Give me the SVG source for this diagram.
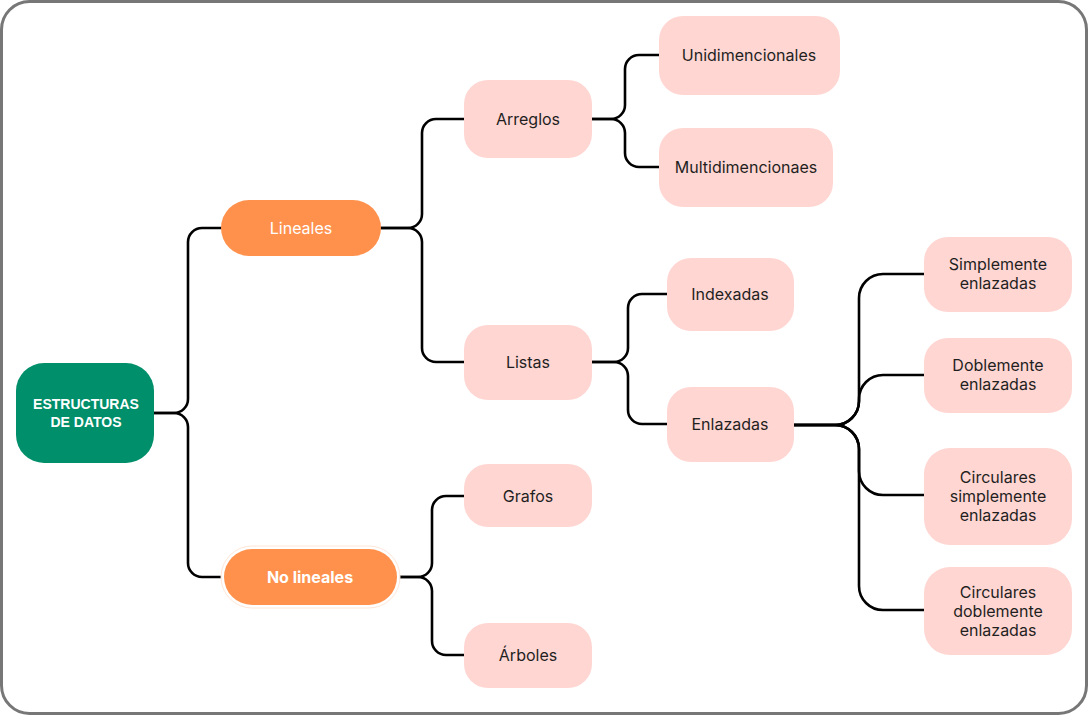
<svg xmlns="http://www.w3.org/2000/svg" width="1088" height="715" viewBox="0 0 1088 715">
<style>
.frame{fill:#fff;stroke:#777;stroke-width:3}
.leaf{fill:#FFD6D2}
.orange{fill:#FF914D}
.root{fill:#008F6B}
.t{font-family:Inter,"Liberation Sans",sans-serif;font-size:16px;fill:#1f1f1f;text-anchor:middle;dominant-baseline:central}
.tw{font-family:Inter,"Liberation Sans",sans-serif;font-size:16px;fill:#fff;text-anchor:middle;dominant-baseline:central}
.tr{font-family:"Liberation Sans",Arial,sans-serif;font-size:14px;font-weight:bold;fill:#fff;text-anchor:middle;dominant-baseline:central}
.c{fill:none;stroke:#000;stroke-width:2.6;stroke-linecap:round}
</style>
<rect class="frame" x="1.5" y="1.5" width="1085" height="712" rx="28"/>
<g id="connectors">
<path class="c" d="M154,413 H174 A14,14 0 0 0 188,399 V242 A14,14 0 0 1 202,228 H221"/>
<path class="c" d="M154,413 H174 A14,14 0 0 1 188,427 V563 A14,14 0 0 0 202,577 H223"/>
<path class="c" d="M381,228 H408 A14,14 0 0 0 422,214 V133 A14,14 0 0 1 436,119 H464"/>
<path class="c" d="M381,228 H408 A14,14 0 0 1 422,242 V348 A14,14 0 0 0 436,362 H464"/>
<path class="c" d="M592,119 H611 A14,14 0 0 0 625,105 V69 A14,14 0 0 1 639,55 H659"/>
<path class="c" d="M592,119 H611 A14,14 0 0 1 625,133 V153 A14,14 0 0 0 639,167 H659"/>
<path class="c" d="M592,362 H614 A14,14 0 0 0 628,348 V308 A14,14 0 0 1 642,294 H667"/>
<path class="c" d="M592,362 H614 A14,14 0 0 1 628,376 V410 A14,14 0 0 0 642,424 H667"/>
<path class="c" d="M398,577 H418 A14,14 0 0 0 432,563 V510 A14,14 0 0 1 446,496 H464"/>
<path class="c" d="M398,577 H418 A14,14 0 0 1 432,591 V641 A14,14 0 0 0 446,655 H464"/>
<path class="c" d="M794,425 H835 A24,24 0 0 0 859,401 V298 A24,24 0 0 1 883,274 H924"/>
<path class="c" d="M794,425 H835 A24,24 0 0 0 859,401 V399 A24,24 0 0 1 883,375 H924"/>
<path class="c" d="M794,425 H835 A24,24 0 0 1 859,449 V471 A24,24 0 0 0 883,495 H924"/>
<path class="c" d="M794,425 H835 A24,24 0 0 1 859,449 V586 A24,24 0 0 0 883,610 H924"/>
</g>
<g id="root"><rect class="root" x="16" y="363" width="138" height="100" rx="28"/><text class="tr" x="86" y="404">ESTRUCTURAS</text><text class="tr" x="86" y="422">DE DATOS</text></g>
<g id="lineales"><rect class="orange" x="221" y="200" width="160" height="56" rx="28"/><text class="tw" x="301" y="228">Lineales</text></g>
<g id="nolineales"><rect x="221" y="546" width="179" height="62" rx="31" fill="#fff" stroke="#FFE6D8" stroke-width="1"/><rect class="orange" x="224" y="549" width="173" height="56" rx="28"/><text class="tw" x="310" y="577" font-weight="bold">No lineales</text></g>
<g id="arreglos"><rect class="leaf" x="464" y="80" width="128" height="78" rx="24"/><text class="t" x="528" y="119">Arreglos</text></g>
<g id="unidimencionales"><rect class="leaf" x="659" y="16" width="181" height="79" rx="24"/><text class="t" x="749" y="55">Unidimencionales</text></g>
<g id="multidimencionaes"><rect class="leaf" x="659" y="128" width="174" height="79" rx="24"/><text class="t" x="746" y="167">Multidimencionaes</text></g>
<g id="listas"><rect class="leaf" x="464" y="325" width="128" height="75" rx="24"/><text class="t" x="528" y="362">Listas</text></g>
<g id="indexadas"><rect class="leaf" x="667" y="258" width="127" height="73" rx="24"/><text class="t" x="730" y="294">Indexadas</text></g>
<g id="enlazadas"><rect class="leaf" x="667" y="387" width="127" height="75" rx="24"/><text class="t" x="730" y="424">Enlazadas</text></g>
<g id="grafos"><rect class="leaf" x="464" y="464" width="128" height="63" rx="24"/><text class="t" x="528" y="496">Grafos</text></g>
<g id="arboles"><rect class="leaf" x="464" y="623" width="128" height="65" rx="24"/><text class="t" x="528" y="655">Árboles</text></g>
<g id="simplemente"><rect class="leaf" x="924" y="237" width="148" height="75" rx="24"/><text class="t" x="998" y="264">Simplemente</text><text class="t" x="998" y="283">enlazadas</text></g>
<g id="doblemente"><rect class="leaf" x="924" y="338" width="148" height="75" rx="24"/><text class="t" x="998" y="365">Doblemente</text><text class="t" x="998" y="384">enlazadas</text></g>
<g id="circsimple"><rect class="leaf" x="924" y="448" width="148" height="97" rx="26"/><text class="t" x="998" y="477">Circulares</text><text class="t" x="998" y="496">simplemente</text><text class="t" x="998" y="515">enlazadas</text></g>
<g id="circdoble"><rect class="leaf" x="924" y="567" width="148" height="88" rx="26"/><text class="t" x="998" y="592">Circulares</text><text class="t" x="998" y="611">doblemente</text><text class="t" x="998" y="630">enlazadas</text></g>
</svg>
